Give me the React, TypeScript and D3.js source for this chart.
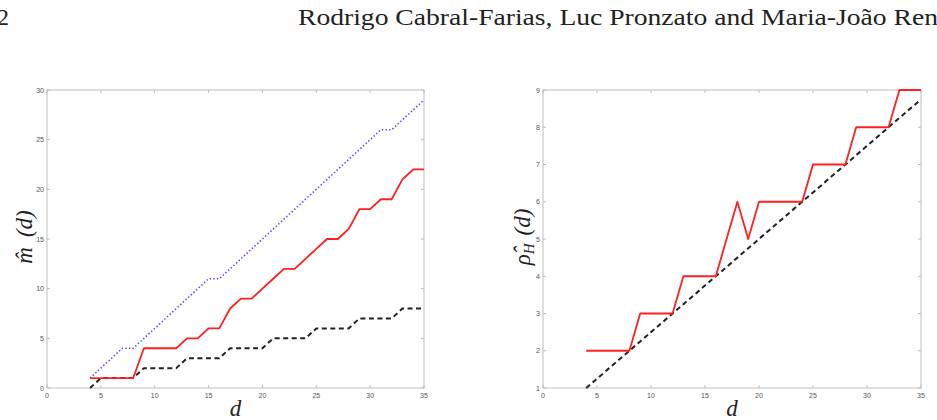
import React, { useEffect } from 'react'
import * as d3 from 'd3'

// d values shared by both panels
const dValues = [4, 5, 6, 7, 8, 9, 10, 11, 12, 13, 14, 15, 16, 17, 18, 19, 20, 21, 22, 23, 24, 25, 26, 27, 28, 29, 30, 31, 32, 33, 34, 35]

// left panel: m-hat(d)
const mBlue = [1, 2, 3, 4, 4, 5, 6, 7, 8, 9, 10, 11, 11, 12, 13, 14, 15, 16, 17, 18, 19, 20, 21, 22, 23, 24, 25, 26, 26, 27, 28, 29]
const mRed = [1, 1, 1, 1, 1, 4, 4, 4, 4, 5, 5, 6, 6, 8, 9, 9, 10, 11, 12, 12, 13, 14, 15, 15, 16, 18, 18, 19, 19, 21, 22, 22]
const mBlack = [0, 1, 1, 1, 1, 2, 2, 2, 2, 3, 3, 3, 3, 4, 4, 4, 4, 5, 5, 5, 5, 6, 6, 6, 6, 7, 7, 7, 7, 8, 8, 8]

// right panel: rho-hat_H(d)
const rhoRed = [2, 2, 2, 2, 2, 3, 3, 3, 3, 4, 4, 4, 4, 5, 6, 5, 6, 6, 6, 6, 6, 7, 7, 7, 7, 8, 8, 8, 8, 9, 9, 9]
const rhoBlack = [1, 1.25, 1.5, 1.75, 2, 2.25, 2.5, 2.75, 3, 3.25, 3.5, 3.75, 4, 4.25, 4.5, 4.75, 5, 5.25, 5.5, 5.75, 6, 6.25, 6.5, 6.75, 7, 7.25, 7.5, 7.75, 8, 8.25, 8.5, 8.75]

const xTicks = [0, 5, 10, 15, 20, 25, 30, 35]
const mTicks = [0, 5, 10, 15, 20, 25, 30]
const rhoTicks = [1, 2, 3, 4, 5, 6, 7, 8, 9]

const pageNumber = '2'
const header = 'Rodrigo Cabral-Farias, Luc Pronzato and Maria-João Ren'

interface Series {
  values: number[]
  color: string
  width: number
  dash?: string
}

interface PanelProps {
  left: number
  right: number
  top: number
  bottom: number
  yDomain: [number, number]
  yTicks: number[]
  series: Series[]
  ylabel: React.ReactNode
  ylabelX: number
}

function Panel({ left, right, top, bottom, yDomain, yTicks, series, ylabel, ylabelX }: PanelProps) {
  const x = d3.scaleLinear().domain([0, 35]).range([left, right])
  const y = d3.scaleLinear().domain(yDomain).range([bottom, top])
  const line = d3.line<number>()
    .x((_, i) => x(dValues[i]))
    .y(v => y(v))

  const axisColor = '#bdbdbd'
  const labelColor = '#555'
  const serif = 'Liberation Serif, DejaVu Serif, serif'
  const sans = 'Liberation Sans, Arial, sans-serif'

  return (
    <g>
      <rect x={left} y={top} width={right - left} height={bottom - top} fill="none" stroke={axisColor} strokeWidth={1} />
      {xTicks.map(t => (
        <g key={'x' + t}>
          <line x1={x(t)} x2={x(t)} y1={bottom} y2={bottom - 3} stroke={axisColor} />
          <line x1={x(t)} x2={x(t)} y1={top} y2={top + 3} stroke={axisColor} />
          <text x={x(t)} y={bottom + 10} fontSize={7} fill={labelColor} textAnchor="middle" fontFamily={sans}>{t}</text>
        </g>
      ))}
      {yTicks.map(t => (
        <g key={'y' + t}>
          <line x1={left} x2={left + 3} y1={y(t)} y2={y(t)} stroke={axisColor} />
          <line x1={right} x2={right - 3} y1={y(t)} y2={y(t)} stroke={axisColor} />
          <text x={left - 3} y={y(t) + 2.5} fontSize={7} fill={labelColor} textAnchor="end" fontFamily={sans}>{t}</text>
        </g>
      ))}
      {series.map((s, i) => (
        <path key={i} d={line(s.values) || ''} fill="none" stroke={s.color} strokeWidth={s.width}
          strokeDasharray={s.dash} strokeLinejoin="round" />
      ))}
      <text x={(left + right) / 2} y={416} fontSize={23} fontStyle="italic" textAnchor="middle"
        fontFamily={serif} fill="#222">d</text>
      <text transform={`translate(${ylabelX},${(top + bottom) / 2 - 2}) rotate(-90)`} fontSize={23}
        fontStyle="italic" textAnchor="middle" fontFamily={serif} fill="#222">
        {ylabel}
      </text>
    </g>
  )
}

export default function App() {
  useEffect(() => {
    document.body.style.margin = '0'
  }, [])

  const serif = 'Liberation Serif, DejaVu Serif, serif'

  return (
    <svg width={937} height={420} style={{ display: 'block', background: '#fff' }}>
      <text x={-3} y={25} fontSize={24} fontFamily={serif} fill="#222">{pageNumber}</text>
      <text x={298} y={25} fontSize={24} fontFamily={serif} fill="#222"
        textLength={640} lengthAdjust="spacingAndGlyphs">{header}</text>

      <Panel left={47} right={424} top={90} bottom={388} yDomain={[0, 30]} yTicks={mTicks}
        ylabelX={32}
        ylabel={<>m&#770;<tspan dx={10}>(d)</tspan></>}
        series={[
          { values: mBlue, color: '#4b4bff', width: 1.6, dash: '1.4,2.2' },
          { values: mBlack, color: '#222', width: 2, dash: '5,3.5' },
          { values: mRed, color: '#ff2020', width: 1.8 },
        ]} />

      <Panel left={543} right={921} top={90} bottom={388} yDomain={[1, 9]} yTicks={rhoTicks}
        ylabelX={530}
        ylabel={<>ρ&#770;<tspan fontSize={15} dy={4}>H</tspan><tspan dy={-4} dx={8}>(d)</tspan></>}
        series={[
          { values: rhoBlack, color: '#222', width: 2, dash: '5,3.5' },
          { values: rhoRed, color: '#ff2020', width: 1.8 },
        ]} />
    </svg>
  )
}
